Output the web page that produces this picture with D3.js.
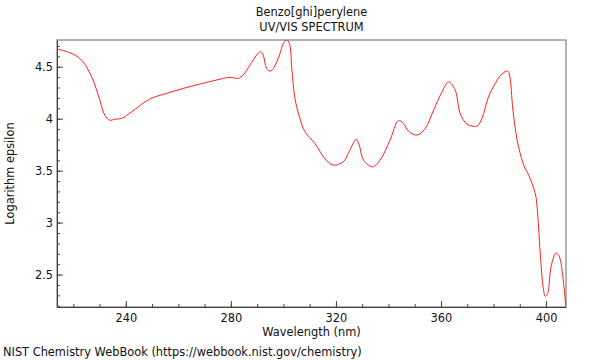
<!DOCTYPE html>
<meta charset="utf-8">
<style>
body { margin: 0; background: #fff; }
text { font-family: "DejaVu Sans", sans-serif; font-size: 11.4px; fill: #111; }
.axis path { stroke: #444; }
.axis line { stroke: #444; }
</style>
<body>
<script src="https://cdn.jsdelivr.net/npm/d3@7"></script>
<script>

// wavelength (nm) and log epsilon
const wavelength = [213.8, 219.9, 223.7, 227.5, 230.1, 232.0, 233.9, 236.0, 238.4, 242.2, 249.1, 255.5,
  261.8, 268.2, 274.6, 279.6, 282.8, 284.7, 287.3, 289.8, 291.3, 292.3, 293.6, 294.9, 296.2, 298.5,
  300.0, 301.3, 302.3, 303.2, 304.4, 306.3, 308.2, 312.0, 315.8, 319.0, 322.8, 324.7, 327.7, 328.9,
  330.5, 334.0, 336.8, 340.6, 343.8, 345.7, 347.6, 350.8, 354.0, 357.2, 360.4, 362.9, 365.4, 367.3,
  369.9, 373.7, 375.6, 378.1, 380.7, 383.2, 385.4, 386.1, 387.4, 389.0, 391.5, 393.4, 395.9, 396.6,
  397.8, 398.9, 399.7, 400.6, 401.9, 403.8, 405.1, 406.1, 407.6];
const logEps = [4.67, 4.622, 4.548, 4.372, 4.179, 4.034, 3.986, 3.995, 4.003, 4.066, 4.189, 4.243,
  4.291, 4.333, 4.372, 4.398, 4.388, 4.42, 4.516, 4.612, 4.644, 4.612, 4.484, 4.458, 4.484, 4.612,
  4.725, 4.757, 4.725, 4.484, 4.195, 4.003, 3.874, 3.762, 3.617, 3.553, 3.585, 3.665, 3.800, 3.745,
  3.601, 3.537, 3.601, 3.794, 3.980, 3.955, 3.880, 3.842, 3.906, 4.083, 4.259, 4.355, 4.275, 4.051,
  3.948, 3.929, 4.003, 4.211, 4.340, 4.43, 4.458, 4.42, 4.083, 3.794, 3.553, 3.456, 3.280, 3.151,
  2.702, 2.380, 2.291, 2.317, 2.574, 2.708, 2.669, 2.541, 2.175];

const xTicks = [240, 280, 320, 360, 400];
const yTicks = [2.5, 3, 3.5, 4, 4.5];
const xMinor = d3.range(220, 410, 10);
const yMinor = d3.range(22, 48).map(d => d / 10);

const titleLines = ["Benzo[ghi]perylene", "UV/VIS SPECTRUM"];

var margin = {top: 40, right: 34, bottom: 53, left: 57},
    width = 600 - margin.left - margin.right,
    height = 360 - margin.top - margin.bottom;

var x = d3.scaleLinear().domain([213.8, 407.6]).range([0, width]);
var y = d3.scaleLinear().domain([2.188, 4.757]).range([height, 0]);

var svgRoot = d3.select("body").append("svg")
    .attr("width", 600)
    .attr("height", 360);

var svg = svgRoot.append("g")
    .attr("transform", "translate(" + margin.left + "," + margin.top + ")");

svg.append("defs").append("clipPath").attr("id", "clip")
  .append("rect").attr("width", width).attr("height", height);

// frame
svg.append("rect")
    .attr("width", width)
    .attr("height", height)
    .attr("fill", "none")
    .attr("stroke", "#999")
    .attr("stroke-width", 1.5);

// minor ticks
svg.append("g")
    .attr("class", "axis")
    .attr("transform", "translate(0," + height + ")")
    .call(d3.axisBottom(x).tickValues(xMinor).tickSize(-3).tickFormat(""))
    .select(".domain").remove();
svg.append("g")
    .attr("class", "axis")
    .call(d3.axisLeft(y).tickValues(yMinor).tickSize(-3).tickFormat(""))
    .select(".domain").remove();

// major ticks
svg.append("g")
    .attr("class", "axis")
    .attr("transform", "translate(0," + height + ")")
    .call(d3.axisBottom(x).tickValues(xTicks).tickSize(-6).tickSizeOuter(0).tickPadding(7).tickFormat(String));

svg.append("g")
    .attr("class", "axis")
    .call(d3.axisLeft(y).tickValues(yTicks).tickSize(-6).tickSizeOuter(0).tickPadding(4).tickFormat(String));

svg.selectAll(".axis text").style("font-family", "DejaVu Sans").style("font-size", "11.4px").attr("fill", "#111");

var line = d3.line()
    .x(function(d, i) { return x(wavelength[i]); })
    .y(function(d) { return y(d); })
    .curve(d3.curveCatmullRom.alpha(0.5));

svg.append("path")
    .datum(logEps)
    .attr("clip-path", "url(#clip)")
    .attr("fill", "none")
    .attr("stroke", "#ff2020")
    .attr("stroke-width", 1)
    .attr("d", line);

// titles
svgRoot.selectAll(".title")
    .data(titleLines)
  .enter().append("text")
    .attr("class", "title")
    .attr("x", margin.left + width / 2)
    .attr("y", function(d, i) { return 16 + i * 15; })
    .attr("text-anchor", "middle")
    .text(function(d) { return d; });

svgRoot.append("text")
    .attr("x", margin.left + width / 2)
    .attr("y", 336)
    .attr("text-anchor", "middle")
    .text("Wavelength (nm)");

svgRoot.append("text")
    .attr("transform", "translate(14," + (margin.top + height / 2) + ") rotate(-90)")
    .attr("text-anchor", "middle")
    .text("Logarithm epsilon");

svgRoot.append("text")
    .attr("x", 3)
    .attr("y", 356)
    .text("NIST Chemistry WebBook (https://webbook.nist.gov/chemistry)");

</script>
</body>
</html>
